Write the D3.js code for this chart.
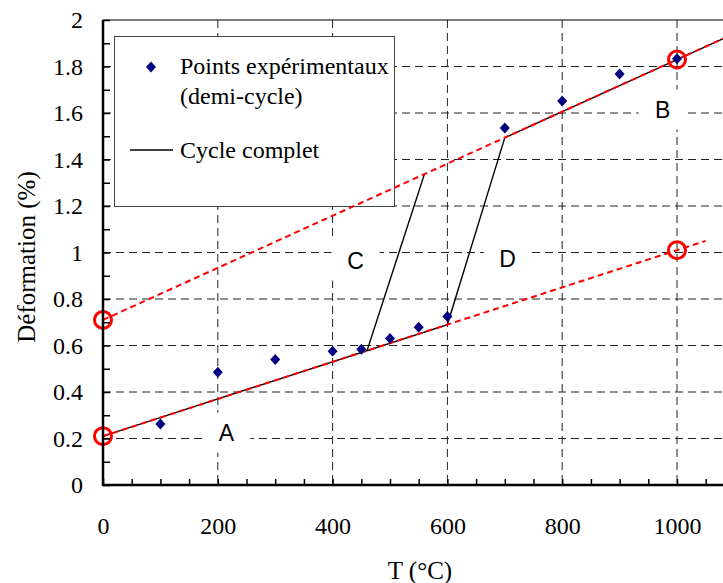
<!DOCTYPE html>
<html>
<head>
<meta charset="utf-8">
<script src="https://cdn.jsdelivr.net/npm/d3@7"></script>
<style>
  body { margin: 0; background: #fff; }
  svg { display: block; }
  text { font-family: "Liberation Serif", "Times New Roman", serif; fill: #000; }
  .letter { font-family: "Liberation Sans", Arial, sans-serif; }
</style>
</head>
<body>
<div id="app"></div>
<script>
// experimental points (half cycle)
var tempPts = [100, 200, 300, 400, 450, 500, 550, 600, 700, 800, 900, 1000];
var defPts  = [0.262, 0.485, 0.54, 0.575, 0.584, 0.63, 0.678, 0.725, 1.536, 1.652, 1.768, 1.833];

// full cycle (black line)
var cycleT = [0, 600, 700, 1200];
var cycleD = [0.21, 0.69, 1.494, 2.054];
var returnT = [560, 460];
var returnD = [1.337, 0.578];

// red dashed extrapolations
var upperT = [0, 1200];
var upperD = [0.71, 2.054];
var lowerT = [0, 1050];
var lowerD = [0.21, 1.05];

// red circles
var circT = [0, 0, 1000, 1000];
var circD = [0.21, 0.71, 1.83, 1.01];

// zone letters
var zoneNames = ['A', 'B', 'C', 'D'];
var zoneT = [215, 975, 440, 705];
var zoneD = [0.225, 1.615, 0.965, 0.975];

var xTicks = [0, 200, 400, 600, 800, 1000];
var xGrid = [200, 400, 600, 800, 1000];
var xMinor = d3.range(0, 1201, 50);
var yTicks = [0, 0.2, 0.4, 0.6, 0.8, 1, 1.2, 1.4, 1.6, 1.8, 2];
var yMinor = d3.range(0, 21).map(function(i){ return i / 10; });

var W = 723, H = 583;
var mLeft = 103, mTop = 20, mBottom = 485;

var x = d3.scaleLinear().domain([0, 1200]).range([mLeft, mLeft + 1200 * 0.574]);
var y = d3.scaleLinear().domain([0, 2]).range([mBottom, mTop]);

var svg = d3.select('#app').append('svg')
    .attr('width', W)
    .attr('height', H);

svg.append('clipPath').attr('id', 'plot')
  .append('rect')
    .attr('x', mLeft).attr('y', mTop)
    .attr('width', x(1200) - mLeft).attr('height', mBottom - mTop);

// grid
var grid = svg.append('g')
    .attr('stroke', '#222')
    .attr('stroke-width', 1)
    .attr('stroke-dasharray', '8,5');

grid.selectAll('.hg')
    .data(yTicks.slice(1, -1))
  .enter().append('line')
    .attr('x1', mLeft).attr('x2', x(1200))
    .attr('y1', function(d){ return y(d); })
    .attr('y2', function(d){ return y(d); });

grid.selectAll('.vg')
    .data(xGrid)
  .enter().append('line')
    .attr('x1', function(d){ return x(d); })
    .attr('x2', function(d){ return x(d); })
    .attr('y1', mTop).attr('y2', mBottom);

// top border
svg.append('line')
    .attr('x1', mLeft).attr('x2', x(1200))
    .attr('y1', mTop).attr('y2', mTop)
    .attr('stroke', '#000').attr('stroke-width', 1.2);

// legend box
var leg = svg.append('g');
leg.append('rect')
    .attr('x', 114.5).attr('y', 36.5)
    .attr('width', 280).attr('height', 170)
    .attr('fill', '#fff')
    .attr('stroke', '#444').attr('stroke-width', 1);
leg.append('path')
    .attr('d', 'M0,-5.5L5,0L0,5.5L-5,0Z')
    .attr('transform', 'translate(151,67)')
    .attr('fill', '#000080');
leg.append('text').attr('x', 180).attr('y', 74)
    .style('font-size', '24px').text('Points expérimentaux');
leg.append('text').attr('x', 180).attr('y', 104)
    .style('font-size', '24px').text('(demi-cycle)');
leg.append('line')
    .attr('x1', 130).attr('x2', 173)
    .attr('y1', 150).attr('y2', 150)
    .attr('stroke', '#000').attr('stroke-width', 1.5);
leg.append('text').attr('x', 180).attr('y', 158)
    .style('font-size', '24px').text('Cycle complet');

// zone letters with white boxes
var zones = svg.append('g').selectAll('g')
    .data(zoneNames)
  .enter().append('g')
    .attr('transform', function(d, i){ return 'translate(' + x(zoneT[i]) + ',' + y(zoneD[i]) + ')'; });
zones.append('rect')
    .attr('x', -24).attr('y', -20)
    .attr('width', 48).attr('height', 40)
    .attr('fill', '#fff');
zones.append('text')
    .attr('class', 'letter')
    .attr('text-anchor', 'middle')
    .attr('dy', '0.36em')
    .style('font-size', '23px')
    .text(function(d){ return d; });

var plot = svg.append('g').attr('clip-path', 'url(#plot)');

var line = d3.line()
    .x(function(d){ return x(d[0]); })
    .y(function(d){ return y(d[1]); });

plot.append('path')
    .attr('d', line(d3.zip(cycleT, cycleD)))
    .attr('fill', 'none').attr('stroke', '#000').attr('stroke-width', 1.4);
plot.append('path')
    .attr('d', line(d3.zip(returnT, returnD)))
    .attr('fill', 'none').attr('stroke', '#000').attr('stroke-width', 1.4);

plot.append('path')
    .attr('d', line(d3.zip(upperT, upperD)))
    .attr('fill', 'none').attr('stroke', '#ff0000')
    .attr('stroke-width', 2).attr('stroke-dasharray', '6,4');
plot.append('path')
    .attr('d', line(d3.zip(lowerT, lowerD)))
    .attr('fill', 'none').attr('stroke', '#ff0000')
    .attr('stroke-width', 2).attr('stroke-dasharray', '6,4');

// points
svg.append('g').selectAll('path')
    .data(d3.zip(tempPts, defPts))
  .enter().append('path')
    .attr('d', 'M0,-5.5L5,0L0,5.5L-5,0Z')
    .attr('transform', function(d){ return 'translate(' + x(d[0]) + ',' + y(d[1]) + ')'; })
    .attr('fill', '#000080');

// red circles
svg.append('g').selectAll('circle')
    .data(d3.zip(circT, circD))
  .enter().append('circle')
    .attr('cx', function(d){ return x(d[0]); })
    .attr('cy', function(d){ return y(d[1]); })
    .attr('r', 8.5)
    .attr('fill', 'none')
    .attr('stroke', '#ff0000')
    .attr('stroke-width', 3);

// axes: minor ticks
svg.append('g')
    .attr('transform', 'translate(0,' + mBottom + ')')
    .call(d3.axisBottom(x).tickValues(xMinor).tickSize(-6).tickFormat(''))
    .call(function(g){
      g.select('.domain').remove();
      g.selectAll('line').attr('stroke', '#000').attr('stroke-width', 1.5);
    });
svg.append('g')
    .attr('transform', 'translate(' + mLeft + ',0)')
    .call(d3.axisLeft(y).tickValues(yMinor).tickSize(-7).tickFormat(''))
    .call(function(g){
      g.select('.domain').remove();
      g.selectAll('line').attr('stroke', '#000').attr('stroke-width', 1.5);
    });

// axes: labels
svg.append('g')
    .attr('transform', 'translate(0,' + mBottom + ')')
    .call(d3.axisBottom(x).tickValues(xTicks).tickSize(0).tickPadding(32)
      .tickFormat(d3.format('d')))
    .call(function(g){
      g.select('.domain').remove();
      g.selectAll('text').attr('font-family', null).style('font-size', '24px');
    });
svg.append('g')
    .attr('transform', 'translate(' + mLeft + ',0)')
    .call(d3.axisLeft(y).tickValues(yTicks).tickSize(0).tickPadding(20)
      .tickFormat(function(d){ return +d.toFixed(1); }))
    .call(function(g){
      g.select('.domain').remove();
      g.selectAll('text').attr('font-family', null).style('font-size', '24px');
    });

// axis lines
svg.append('line')
    .attr('x1', mLeft).attr('x2', mLeft)
    .attr('y1', mTop).attr('y2', mBottom + 1)
    .attr('stroke', '#000').attr('stroke-width', 2.5);
svg.append('line')
    .attr('x1', mLeft - 1).attr('x2', x(1200))
    .attr('y1', mBottom).attr('y2', mBottom)
    .attr('stroke', '#000').attr('stroke-width', 2.5);

// titles
svg.append('text')
    .attr('x', 420).attr('y', 579)
    .attr('text-anchor', 'middle')
    .style('font-size', '25px')
    .text('T (°C)');
svg.append('text')
    .attr('transform', 'translate(35,257) rotate(-90)')
    .attr('text-anchor', 'middle')
    .style('font-size', '25px')
    .text('Déformation (%)');
</script>
</body>
</html>
